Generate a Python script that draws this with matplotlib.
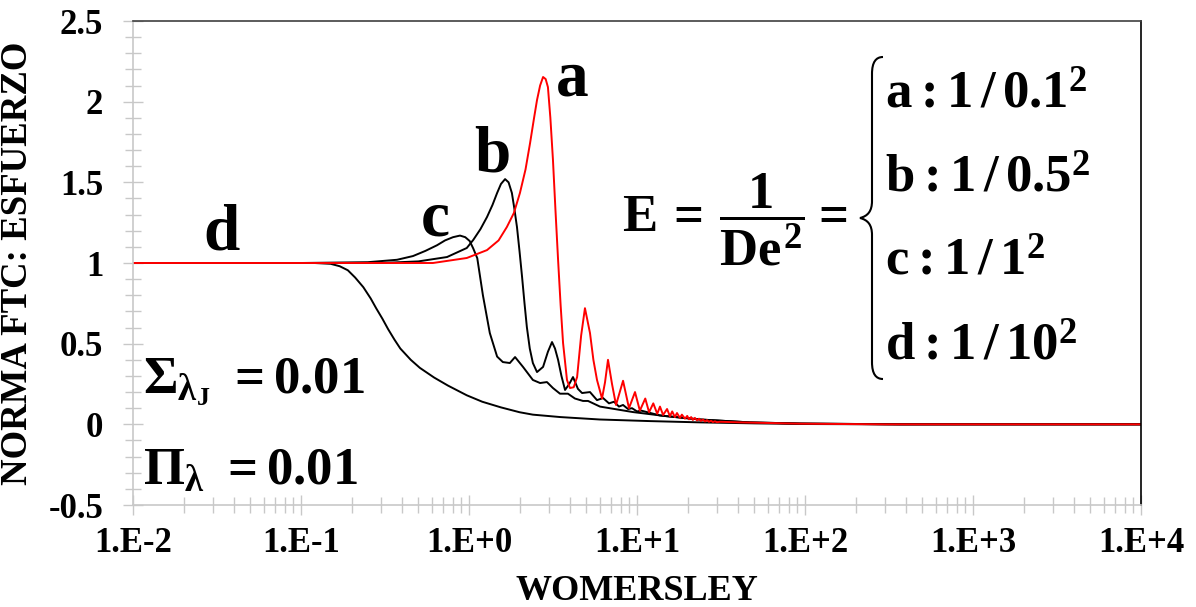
import numpy as np
import matplotlib
matplotlib.use("Agg")
import matplotlib.pyplot as plt
import matplotlib.ticker as mticker
from matplotlib.path import Path
from matplotlib.patches import PathPatch
from matplotlib.transforms import Affine2D

# curve a (red): Womersley, norm
wo_a = [0.01, 0.3, 0.61, 0.97, 1.28, 1.50, 1.68, 1.85, 2.01, 2.17, 2.31, 2.44, 2.54, 2.65,
        2.76, 2.86, 2.95, 3.05, 3.16, 3.27, 3.39, 3.51, 3.63, 3.83, 3.99, 4.20, 4.40, 4.65,
        4.90, 5.25, 5.50, 5.78, 6.19, 6.45, 6.72, 7.10, 7.50, 8.26, 8.96, 9.73, 10.4,
        11.2, 11.8, 12.5, 13.2, 13.7, 14.3, 15.1, 15.7, 16.2, 16.8, 17.3, 18.0, 18.5, 19.3,
        19.9, 20.4, 21.0, 21.5, 22.1, 22.8, 23.4, 24.0, 24.7, 25.4, 26.1, 26.8, 27.6, 28.3,
        29.1, 29.9, 31.2, 41, 62, 93, 300, 1e4]
ft_a = [1.0, 1.0, 1.0, 1.031, 1.08, 1.14, 1.223, 1.31, 1.434, 1.58, 1.744, 1.90, 2.01, 2.10,
        2.153, 2.14, 2.09, 1.90, 1.64, 1.33, 1.02, 0.74, 0.504, 0.275, 0.225, 0.23, 0.293, 0.55,
        0.72, 0.566, 0.40, 0.275, 0.16, 0.26, 0.40, 0.25, 0.12, 0.27, 0.10, 0.20, 0.085,
        0.16, 0.075, 0.13, 0.065, 0.11, 0.058, 0.095, 0.05, 0.08, 0.045, 0.07, 0.04, 0.06, 0.035,
        0.052, 0.031, 0.045, 0.027, 0.04, 0.024, 0.035, 0.021, 0.03, 0.018, 0.026, 0.016, 0.022, 0.014,
        0.019, 0.013, 0.016, 0.012, 0.008, 0.004, 0.0, 0.0]

# curve b
wo_b = [0.01, 0.3, 0.5, 0.74, 0.97, 1.06, 1.17, 1.28, 1.38, 1.47, 1.55, 1.64, 1.72, 1.80,
        1.86, 1.93, 2.00, 2.07, 2.14, 2.21, 2.30, 2.40, 2.54, 2.76, 2.95, 3.12, 3.25, 3.39,
        3.55, 3.73, 3.95, 4.16, 4.45, 4.71, 5.25, 5.78, 6.28, 6.81, 7.30,
        7.81, 8.26, 8.84, 9.34, 10.0, 10.6, 13.7, 23.7, 47, 93, 367, 1e4]
ft_b = [1.0, 1.0, 1.01, 1.037, 1.093, 1.143, 1.21, 1.285, 1.36, 1.434, 1.49, 1.52, 1.50, 1.434,
        1.34, 1.223, 1.07, 0.913, 0.75, 0.603, 0.47, 0.38, 0.324, 0.356, 0.45, 0.51, 0.47, 0.40,
        0.30, 0.213, 0.25, 0.293, 0.22, 0.194, 0.20, 0.15, 0.163, 0.13, 0.14,
        0.11, 0.12, 0.095, 0.10, 0.08, 0.085, 0.055, 0.03, 0.012, 0.005, 0.0, 0.0]

# curve c
wo_c = [0.01, 0.1, 0.25, 0.373, 0.464, 0.55, 0.645, 0.72, 0.803, 0.884, 0.95, 1.01, 1.06,
        1.12, 1.21, 1.33, 1.47, 1.59, 1.75, 1.88, 2.10, 2.40, 2.65, 2.91, 3.16, 3.48, 3.88,
        4.27, 4.77, 5.11, 6.02, 9.47, 15.1, 23.7, 47, 93, 367, 1e4]
ft_c = [1.0, 1.0, 1.005, 1.02, 1.043, 1.075, 1.11, 1.14, 1.16, 1.17, 1.16, 1.136, 1.09,
        1.03, 0.80, 0.566, 0.42, 0.386, 0.38, 0.417, 0.355, 0.275, 0.256, 0.262, 0.225, 0.19, 0.19,
        0.16, 0.145, 0.145, 0.11, 0.076, 0.05, 0.03, 0.012, 0.005, 0.0, 0.0]

# curve d
wo_d = [0.01, 0.12, 0.15, 0.17, 0.19, 0.21, 0.235, 0.26, 0.28, 0.305, 0.33, 0.36, 0.39,
        0.45, 0.51, 0.62, 0.75, 0.97, 1.2, 1.55, 2.0, 2.4, 3.5, 6.0, 12, 24, 50, 100, 300, 1e4]
ft_d = [1.0, 1.0, 0.995, 0.98, 0.955, 0.91, 0.85, 0.78, 0.72, 0.655, 0.59, 0.525, 0.47,
        0.40, 0.35, 0.29, 0.24, 0.18, 0.14, 0.105, 0.075, 0.06, 0.045, 0.03, 0.02, 0.012, 0.006,
        0.002, 0.0, 0.0]

xticks = [1e-2, 1e-1, 1e0, 1e1, 1e2, 1e3, 1e4]
xticklabels = ["1.E-2", "1.E-1", "1.E+0", "1.E+1", "1.E+2", "1.E+3", "1.E+4"]
yticks = [-0.5, 0, 0.5, 1, 1.5, 2, 2.5]
yticklabels = ["-0.5", "0", "0.5", "1", "1.5", "2", "2.5"]

plt.rcParams["font.family"] = "Liberation Serif"
plt.rcParams["font.weight"] = "bold"
plt.rcParams["mathtext.fontset"] = "custom"
plt.rcParams["mathtext.rm"] = "Liberation Serif:bold"
plt.rcParams["mathtext.it"] = "Liberation Serif:bold"
plt.rcParams["mathtext.bf"] = "Liberation Serif:bold"
plt.rcParams["mathtext.sf"] = "Liberation Serif"  # exponentes en peso normal

W, H = 1196, 607
fig = plt.figure(figsize=(W / 100, H / 100), dpi=100)
ax = fig.add_axes([133 / W, 1 - 505 / H, 1008 / W, 484 / H])

ax.plot(wo_d, ft_d, color="black", lw=1.4)
ax.plot(wo_c, ft_c, color="black", lw=1.4)
ax.plot(wo_b, ft_b, color="black", lw=1.4)
ax.plot(wo_a, ft_a, color="red", lw=1.4)

ax.set_xscale("log")
ax.set_xlim(1e-2, 1e4)
ax.set_ylim(-0.5, 2.5)
ax.set_xticks(xticks)
ax.set_xticklabels(xticklabels)
ax.xaxis.set_minor_locator(mticker.LogLocator(base=10, subs=np.arange(2, 10), numticks=30))
ax.xaxis.set_minor_formatter(mticker.NullFormatter())
ax.set_yticks(yticks)
ax.set_yticklabels(yticklabels)
ax.yaxis.set_minor_locator(mticker.MultipleLocator(0.1))

grey = "#c8c8c8"
ax.tick_params(axis="both", which="major", direction="inout", length=15, width=1,
               color=grey, labelsize=25)
ax.tick_params(axis="both", which="minor", direction="inout", length=11, width=1, color=grey)
ax.tick_params(axis="y", which="major", pad=14)
ax.tick_params(axis="x", which="major", pad=8)

for side in ["left", "bottom"]:
    ax.spines[side].set_color(grey)
    ax.spines[side].set_linewidth(1.2)
ax.spines["top"].set_color("#404040")
ax.spines["right"].set_color("black")
ax.spines["top"].set_linewidth(1.2)
ax.spines["right"].set_linewidth(1.2)

ax.set_xlabel("WOMERSLEY", fontsize=26, fontweight="bold")
ax.set_ylabel("NORMA FTC: ESFUERZO", fontsize=26.5, fontweight="bold")
ax.xaxis.set_label_coords(0.5, -0.145)
ax.yaxis.set_label_coords(-0.097, 0.5)

# texto en coordenadas de pixel
px = Affine2D().scale(1 / W, -1 / H).translate(0, 1) + fig.transFigure

for lab, x, y in [("a", 572, 96), ("b", 492, 172), ("c", 435, 235), ("d", 222, 250)]:
    fig.text(x, y, lab, transform=px, ha="center", va="baseline", fontsize=47, fontweight="bold")

fig.text(143, 393, r"$\Sigma_{\lambda_{J}}\ =0.01$", transform=px, ha="left", va="baseline", fontsize=38)
fig.text(143, 485, r"$\Pi_{\lambda}\ =0.01$", transform=px, ha="left", va="baseline", fontsize=38)

fig.text(622, 220, r"$E\,=\,\dfrac{1}{De^{\mathsf{2}}}=$", transform=px, ha="left", va="center", fontsize=38)

items = [r"$a:1\,/\,0.1^{\mathsf{2}}$", r"$b:1\,/\,0.5^{\mathsf{2}}$",
         r"$c:1\,/\,1^{\mathsf{2}}$", r"$d:1\,/\,10^{\mathsf{2}}$"]
for s, y in zip(items, [108, 192, 275, 360]):
    fig.text(885, y, s, transform=px, ha="left", va="baseline", fontsize=38)

# llave
verts = [(883, 57), (876, 57), (872, 62), (872, 74),
         (872, 201),
         (872, 211), (868, 216), (860, 218),
         (868, 220), (872, 225), (872, 235),
         (872, 362),
         (872, 374), (876, 379), (883, 379)]
codes = [Path.MOVETO, Path.CURVE4, Path.CURVE4, Path.CURVE4,
         Path.LINETO,
         Path.CURVE4, Path.CURVE4, Path.CURVE4,
         Path.CURVE4, Path.CURVE4, Path.CURVE4,
         Path.LINETO,
         Path.CURVE4, Path.CURVE4, Path.CURVE4]
fig.add_artist(PathPatch(Path(verts, codes), transform=px, fill=False, lw=1.5, color="black"))

plt.savefig("out.png", dpi=100)
plt.close(fig)
